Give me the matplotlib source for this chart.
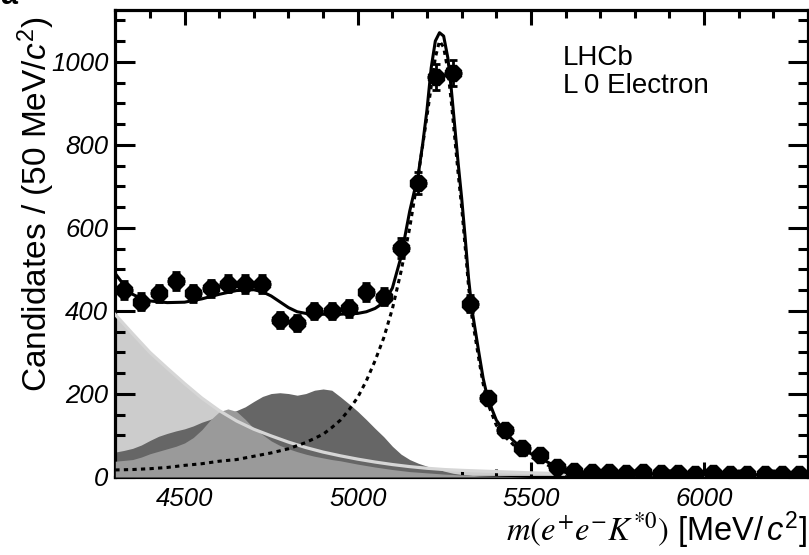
import numpy as np
import matplotlib
matplotlib.use("Agg")
import matplotlib.pyplot as plt

plt.rcParams['font.family'] = ['Liberation Sans', 'DejaVu Sans']
plt.rcParams['mathtext.fontset'] = 'custom'
plt.rcParams['mathtext.rm'] = 'Liberation Sans'
plt.rcParams['mathtext.it'] = 'Liberation Sans:italic'
plt.rcParams['mathtext.bf'] = 'Liberation Sans:bold'

# ---------------- data ----------------
bin_centers = [4325, 4375, 4425, 4475, 4525, 4575, 4625, 4675, 4725, 4775,
               4825, 4875, 4925, 4975, 5025, 5075, 5125, 5175, 5225, 5275,
               5325, 5375, 5425, 5475, 5525, 5575, 5625, 5675, 5725, 5775,
               5825, 5875, 5925, 5975, 6025, 6075, 6125, 6175, 6225, 6275]
counts = [450, 422, 442, 473, 442, 454, 466, 465, 465, 378,
          372, 400, 400, 406, 446, 434, 551, 707, 964, 972,
          417, 190, 113, 69, 53, 25, 14, 12, 11, 10,
          11, 9, 10, 8, 9, 8, 7, 8, 7, 7]
bin_half_width = 25

total_x = [4300, 4325, 4350, 4375, 4400, 4450, 4500, 4550, 4600, 4650,
           4700, 4725, 4750, 4775, 4800, 4825, 4850, 4900, 4950, 5000,
           5025, 5050, 5075, 5100, 5125, 5150, 5175, 5188, 5200, 5212,
           5224, 5236, 5248, 5260, 5270, 5280, 5290, 5300, 5310, 5320,
           5330, 5340, 5350, 5362, 5375, 5400, 5425, 5450, 5475, 5500,
           5525, 5550, 5575, 5600, 5650, 5700, 5800, 5900, 6000, 6150, 6300]
total_fit = [490, 462, 440, 430, 424, 420, 421, 429, 440, 449,
             451, 446, 436, 422, 408, 398, 394, 392, 392, 394,
             398, 406, 420, 455, 530, 640, 730, 805, 885, 985,
             1050, 1070, 1062, 1010, 935, 845, 755, 672, 578, 478,
             402, 350, 298, 238, 190, 137, 108, 87, 68, 56,
             46, 35, 25, 17, 12, 10, 8, 7, 6, 5, 4]

signal_x = [4300, 4350, 4400, 4450, 4500, 4550, 4600, 4650, 4700, 4750,
            4800, 4850, 4900, 4925, 4950, 4975, 5000, 5025, 5050, 5075,
            5100, 5125, 5150, 5175, 5200, 5212, 5224, 5236, 5248, 5260,
            5270, 5280, 5290, 5300, 5310, 5320, 5330, 5340, 5350, 5362,
            5375, 5400, 5425, 5450, 5475, 5500, 5525, 5550, 5575, 5600,
            5650, 5700, 5800, 5900, 6000, 6300]
signal = [17, 18, 20, 23, 28, 32, 38, 42, 50, 58,
          68, 83, 103, 119, 137, 162, 192, 232, 280, 335,
          405, 495, 600, 728, 870, 940, 1010, 1050, 1035, 980,
          905, 818, 730, 650, 556, 458, 384, 333, 282, 225,
          178, 125, 97, 77, 59, 48, 39, 28, 18, 11,
          6, 4, 2, 1, 0, 0]

light_x = [4300, 4350, 4400, 4450, 4500, 4550, 4600, 4650, 4700, 4750,
           4800, 4850, 4900, 4950, 5000, 5050, 5100, 5150, 5200, 5250,
           5300, 5400, 5500, 5600, 5800, 6000, 6300]
light_bkg = [391, 345, 300, 262, 225, 190, 160, 135, 115, 99,
             84, 71, 60, 51, 43, 36, 30, 25, 21, 18,
             16, 13, 10, 8, 6, 5, 4]

dark_x = [4300, 4325, 4350, 4375, 4400, 4425, 4450, 4475, 4500, 4525,
          4550, 4575, 4600, 4625, 4650, 4675, 4700, 4725, 4750, 4775,
          4800, 4825, 4850, 4875, 4900, 4925, 4950, 4975, 5000, 5025,
          5050, 5075, 5100, 5125, 5150, 5175, 5200, 5225, 5250, 5275,
          5300, 5325, 5350, 5400, 5450, 6300]
dark_bkg = [60, 64, 69, 77, 88, 98, 105, 111, 116, 123,
            132, 139, 146, 153, 160, 169, 182, 194, 201, 203,
            201, 197, 201, 209, 212, 209, 193, 176, 158, 138,
            117, 97, 74, 55, 42, 33, 26, 20, 14, 9,
            6, 4, 2, 1, 0, 0]

med_x = [4300, 4325, 4350, 4375, 4400, 4425, 4450, 4475, 4500, 4525,
         4550, 4575, 4600, 4625, 4650, 4675, 4700, 4725, 4750, 4775,
         4800, 4825, 4850, 4875, 4900, 4925, 4950, 4975, 5000, 5050,
         5100, 5150, 5200, 5250, 5300, 5350, 5400, 5500, 6300]
med_bkg = [38, 40, 42, 48, 56, 62, 68, 74, 82, 95,
           114, 138, 157, 164, 158, 139, 117, 102, 87, 76,
           68, 61, 55, 50, 46, 42, 39, 35, 31, 24,
           18, 13, 10, 7, 5, 3, 2, 0, 0]

x_ticks = [4500, 5000, 5500, 6000]
x_tick_labels = ['4500', '5000', '5500', '6000']
y_ticks = [0, 200, 400, 600, 800, 1000]
y_tick_labels = ['0', '200', '400', '600', '800', '1000']

# ---------------- figure ----------------
W, H = 809, 555
fig = plt.figure(figsize=(W / 100, H / 100), dpi=100)
ax = fig.add_axes([115.3 / W, 1 - 477 / H, (808 - 115.3) / W, (477 - 10.3) / H])

ax.fill_between(light_x, 0, light_bkg, color='#cccccc', lw=0, zorder=1)
ax.fill_between(dark_x, 0, dark_bkg, color='#666666', lw=0, zorder=2)
ax.fill_between(med_x, 0, med_bkg, color='#9a9a9a', lw=0, zorder=3)
ax.plot(light_x, light_bkg, color='#d6d6d6', lw=2.3, zorder=4)
ax.plot(signal_x, signal, color='black', lw=2.2, ls=(0, (1.4, 1.4)), zorder=5)
ax.plot(total_x, total_fit, color='black', lw=2.2, zorder=6)

yerr = np.sqrt(np.array(counts, dtype=float))
ax.errorbar(bin_centers, counts, xerr=bin_half_width, fmt='none', ecolor='black',
            elinewidth=2, capsize=0, zorder=7)
ax.errorbar(bin_centers, counts, yerr=yerr, fmt='8', ms=13, color='black', mec='black',
            elinewidth=2, capsize=3, capthick=2, zorder=8)

ax.set_xlim(4300, 6300)
ax.set_ylim(0, 1124)
ax.set_xticks(x_ticks)
ax.set_xticklabels(x_tick_labels, fontstyle='italic', fontsize=18.5)
ax.set_yticks(y_ticks)
ax.set_yticklabels(y_tick_labels, fontstyle='italic', fontsize=18.5)
ax.set_xticks(np.arange(4300, 6301, 100), minor=True)
ax.set_yticks(np.arange(0, 1124, 50), minor=True)

for s in ax.spines.values():
    s.set_linewidth(2.3)
ax.tick_params(which='both', direction='in', top=True, right=True, width=2.2)
ax.tick_params(axis='x', which='major', length=11, pad=7)
ax.tick_params(axis='x', which='minor', length=5.5)
ax.tick_params(axis='y', which='major', length=14.5, pad=5)
ax.tick_params(axis='y', which='minor', length=7.2)

# texts
fig.text(563 / W, 1 - 65 / H, 'LHCb', fontsize=20, va='baseline', ha='left')
fig.text(563 / W, 1 - 93 / H, 'L\u20090 Electron', fontsize=20, va='baseline', ha='left')

fig.text(15 / W, 1 - 17 / H, r'Candidates / (50 MeV/$c^{2}$)', fontsize=24,
         rotation=90, ha='left', va='top')

xl_base = 1 - 541 / H
t2 = fig.text(807 / W, xl_base, r'[MeV/$\,c^{2}$]', fontsize=23.5,
              ha='right', va='baseline')
fig.canvas.draw()
r = fig.canvas.get_renderer()
bb = t2.get_window_extent(r)
fig.text((bb.x0 - 8) / W, xl_base, r'$m(e^{+}e^{-}K^{*0})$', fontsize=23.5,
         ha='right', va='baseline', math_fontfamily='stix')

fig.text(0.0, 1 - 4.5 / H, 'a', fontsize=22, fontweight='bold', va='baseline', ha='left')

fig.savefig('out.png', dpi=100)
